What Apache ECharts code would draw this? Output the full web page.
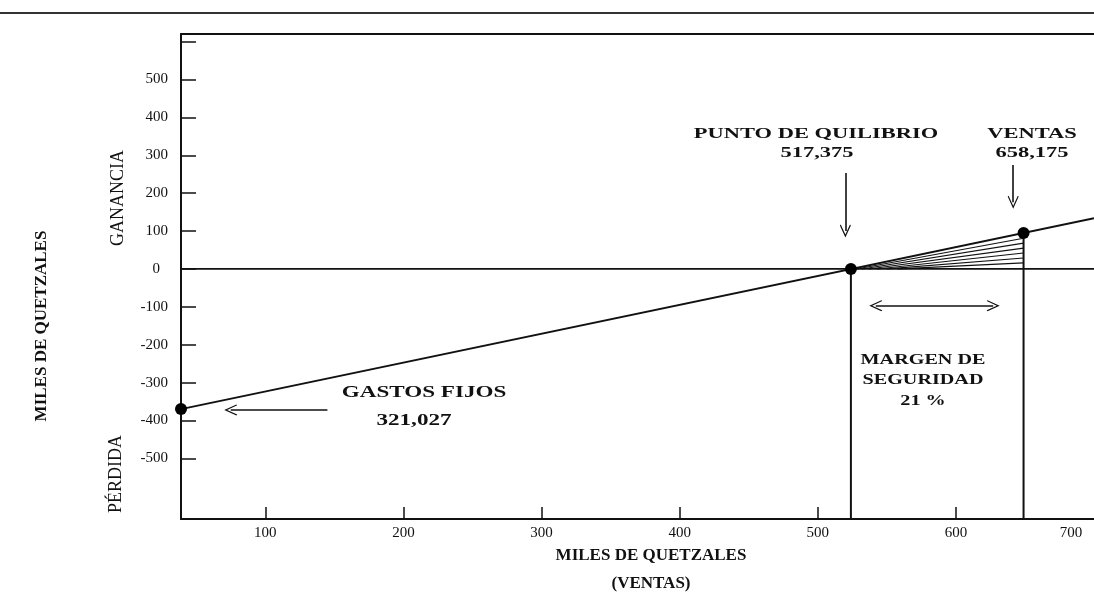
<!DOCTYPE html>
<html>
<head>
<meta charset="utf-8">
<script src="https://cdn.jsdelivr.net/npm/echarts@6/dist/echarts.min.js"></script>
<style>html,body{margin:0;padding:0;background:#fff}#c{width:1094px;height:592px}</style>
</head>
<body>
<div id="c"></div>
<script>
// ---- data ----
const xTickValues = [100, 200, 300, 400, 500, 600];
const xLabelValues = [100, 200, 300, 400, 500, 600, 700];
const yTickValues = [-500, -400, -300, -200, -100, 0, 100, 200, 300, 400, 500, 600];
const yLabelValues = [-500, -400, -300, -200, -100, 0, 100, 200, 300, 400, 500];
const resultLine = [[39, -370], [700, 134]];
const keyPoints = [[39, -370], [524, 0], [649, 95]];
const zeroLine = [[39, 0], [700, 0]];
const breakEvenDrop = [[524, 0], [524, -660]];
const salesDrop = [[649, 95], [649, -660]];
const hatchStarts = [528, 532, 537, 543, 550, 558];
const hatchX = 649;
const hatchEnds = [81, 68, 55, 42, 29, 16];
const arrowBreakEven = [[520, 253], [520, 100]];
const arrowSales = [[641.5, 274], [641.5, 176]];
const arrowMargin = [[542, -97], [627, -97]];
const arrowFixed = [[145, -372], [75, -372]];

const INK = '#111';
const SERIF = '"Liberation Serif", "DejaVu Serif", serif';
const chevron = 'path://M0 0 L10 14 L8.4 15 L0 3.4 L-8.4 15 L-10 14 Z';

const hatchSeries = hatchEnds.map((v, i) => ({
  type: 'line', data: [[hatchStarts[i], 0], [hatchX, v]], showSymbol: false, silent: true,
  lineStyle: {color: INK, width: 1.1}
}));

function arrow(seg, both) {
  return [{coord: seg[0], symbol: both ? chevron : 'none'}, {coord: seg[1], symbol: chevron}];
}

const chart = echarts.init(document.getElementById('c'));
chart.setOption({
  animation: false,
  backgroundColor: '#fff',
  grid: {left: 181, top: 34, right: 0, bottom: 73, containLabel: false, outerBoundsMode: 'none'},
  xAxis: [{
    type: 'value', min: 39, max: 700,
    axisLine: {onZero: false, lineStyle: {color: INK, width: 2}},
    axisTick: {inside: true, length: 12, lineStyle: {color: INK, width: 1.5}, customValues: xTickValues},
    axisLabel: {
      customValues: xLabelValues, margin: 7, color: INK, fontFamily: SERIF, fontSize: 15,
      formatter: v => v === 700 ? '{e|700}' : String(v),
      rich: {e: {padding: [0, 46, 0, 0], color: INK, fontFamily: SERIF, fontSize: 15}}
    },
    splitLine: {show: false},
    name: 'MILES DE QUETZALES\n(VENTAS)', nameLocation: 'middle', nameGap: 23, nameMoveOverlap: false,
    nameTextStyle: {color: INK, fontFamily: SERIF, fontWeight: 'bold', fontSize: 17, lineHeight: 28, padding: [0, 0, 0, 27]}
  }, {
    type: 'value', position: 'top', min: 39, max: 700,
    axisLine: {show: true, onZero: false, lineStyle: {color: INK, width: 2}},
    axisTick: {show: false}, axisLabel: {show: false}, splitLine: {show: false}
  }],
  yAxis: {
    type: 'value', min: -660, max: 620,
    axisLine: {show: true, onZero: false, lineStyle: {color: INK, width: 2}},
    axisTick: {show: true, inside: true, length: 15, lineStyle: {color: INK, width: 1.5}, customValues: yTickValues},
    axisLabel: {
      customValues: yLabelValues, margin: 13, color: INK, fontFamily: SERIF, fontSize: 15,
      formatter: v => v === 0 ? '{z|0}' : String(v),
      rich: {z: {padding: [0, 8, 0, 0], color: INK, fontFamily: SERIF, fontSize: 15}}
    },
    splitLine: {show: false}
  },
  series: [
    {type: 'line', data: zeroLine, showSymbol: false, silent: true, lineStyle: {color: INK, width: 1.8}},
    {type: 'line', data: breakEvenDrop, showSymbol: false, silent: true, lineStyle: {color: INK, width: 2}},
    {type: 'line', data: salesDrop, showSymbol: false, silent: true, lineStyle: {color: INK, width: 2}},
    ...hatchSeries,
    {type: 'line', data: resultLine, showSymbol: false, silent: true, lineStyle: {color: INK, width: 2}},
    {type: 'scatter', data: keyPoints, symbolSize: 12, silent: true, itemStyle: {color: '#000', opacity: 1}, z: 5},
    {
      type: 'line', data: [], silent: true,
      markLine: {
        silent: true, symbolSize: [11, 13], label: {show: false},
        lineStyle: {color: INK, width: 1.6, type: 'solid', opacity: 1},
        data: [arrow(arrowBreakEven), arrow(arrowSales), arrow(arrowMargin, true), arrow(arrowFixed)]
      }
    }
  ],
  graphic: [
    {type: 'line', shape: {x1: 0, y1: 13, x2: 1094, y2: 13}, style: {stroke: '#333', lineWidth: 2}},
    {type: 'text', x: 816, y: 134, scaleX: 1.45, style: {text: 'PUNTO DE QUILIBRIO', font: 'bold 15.5px ' + SERIF, fill: INK, textAlign: 'center', textVerticalAlign: 'middle'}},
    {type: 'text', x: 817, y: 153, scaleX: 1.45, style: {text: '517,375', font: 'bold 15.5px ' + SERIF, fill: INK, textAlign: 'center', textVerticalAlign: 'middle'}},
    {type: 'text', x: 1032, y: 134, scaleX: 1.45, style: {text: 'VENTAS', font: 'bold 15.5px ' + SERIF, fill: INK, textAlign: 'center', textVerticalAlign: 'middle'}},
    {type: 'text', x: 1032, y: 153, scaleX: 1.45, style: {text: '658,175', font: 'bold 15.5px ' + SERIF, fill: INK, textAlign: 'center', textVerticalAlign: 'middle'}},
    {type: 'text', x: 424, y: 393, scaleX: 1.4, style: {text: 'GASTOS FIJOS', font: 'bold 16.5px ' + SERIF, fill: INK, textAlign: 'center', textVerticalAlign: 'middle'}},
    {type: 'text', x: 414, y: 421, scaleX: 1.4, style: {text: '321,027', font: 'bold 16.5px ' + SERIF, fill: INK, textAlign: 'center', textVerticalAlign: 'middle'}},
    {type: 'text', x: 923, y: 360, scaleX: 1.3, style: {text: 'MARGEN DE', font: 'bold 15.5px ' + SERIF, fill: INK, textAlign: 'center', textVerticalAlign: 'middle'}},
    {type: 'text', x: 923, y: 380, scaleX: 1.3, style: {text: 'SEGURIDAD', font: 'bold 15.5px ' + SERIF, fill: INK, textAlign: 'center', textVerticalAlign: 'middle'}},
    {type: 'text', x: 923, y: 401, scaleX: 1.3, style: {text: '21 %', font: 'bold 15.5px ' + SERIF, fill: INK, textAlign: 'center', textVerticalAlign: 'middle'}},
    {type: 'text', x: 118, y: 198, rotation: Math.PI / 2, style: {text: 'GANANCIA', font: '18px ' + SERIF, fill: INK, textAlign: 'center', textVerticalAlign: 'middle'}},
    {type: 'text', x: 116, y: 474, rotation: Math.PI / 2, style: {text: 'PÉRDIDA', font: '18px ' + SERIF, fill: INK, textAlign: 'center', textVerticalAlign: 'middle'}},
    {type: 'text', x: 42, y: 326, rotation: Math.PI / 2, style: {text: 'MILES DE QUETZALES', font: 'bold 17px ' + SERIF, fill: INK, textAlign: 'center', textVerticalAlign: 'middle'}}
  ]
});
</script>
</body>
</html>
